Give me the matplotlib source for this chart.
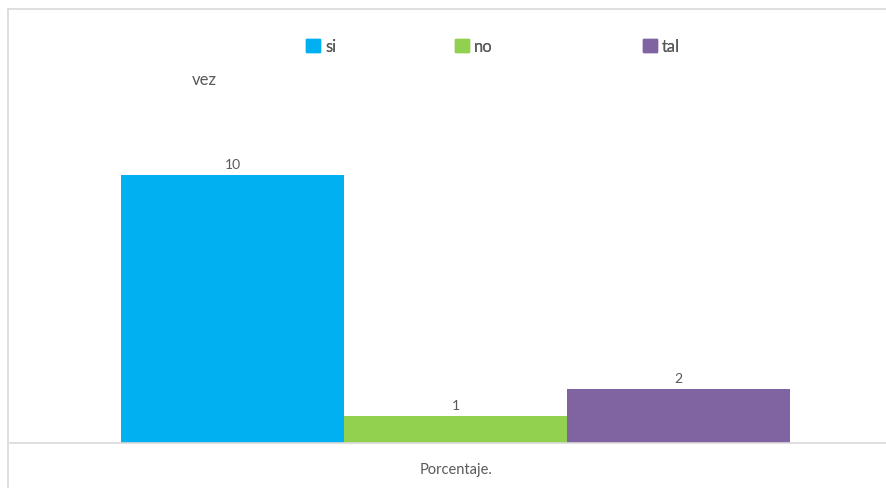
import matplotlib
matplotlib.use("Agg")
import matplotlib.pyplot as plt
from matplotlib.lines import Line2D
from matplotlib.patches import Patch

# Chart data
series = ["si", "no", "tal"]
values = [10, 1, 2]
colors = ["#00B0F0", "#92D050", "#8064A2"]
category = "Porcentaje."

plt.rcParams["font.family"] = ["Lato", "DejaVu Sans"]
text_color = "#595959"
W, H = 886, 489

fig = plt.figure(figsize=(W / 100, H / 100), dpi=100)
fig.patch.set_facecolor("white")

# plot area: left 10px, baseline at 444px
ax = fig.add_axes([10 / W, (H - 444) / H, (W - 10) / W, (444 - 10) / H])
positions = [-1, 0, 1]
bars = ax.bar(positions, values, width=1.0, color=colors, zorder=2)
ax.bar_label(bars, labels=[str(v) for v in values], padding=4,
             fontsize=10, color=text_color)

ax.set_xlim(-2.0, 1.93)
ax.set_ylim(0, 16.2)
ax.set_yticks([])
ax.set_xticks([])
for s in ["top", "right", "left"]:
    ax.spines[s].set_visible(False)
ax.spines["bottom"].set_color("#D9D9D9")
ax.spines["bottom"].set_linewidth(1.2)
ax.set_facecolor("none")

# category label under the axis
fig.text(456 / W, 1 - 470 / H, category, ha="center", va="center",
         fontsize=10.5, color=text_color)

# chart border (left and top)
fig.add_artist(Line2D([8 / W, 8 / W], [0, 1 - 10 / H], color="#D9D9D9", lw=1.2))
fig.add_artist(Line2D([8 / W, 1], [1 - 10 / H, 1 - 10 / H], color="#D9D9D9", lw=1.2))

# legend entries, placed one by one like the original
legend_x = [306, 455, 643]
for name, col, lx in zip(series, colors, legend_x):
    leg = fig.legend(handles=[Patch(color=col)], labels=[name],
                     loc="center left", bbox_to_anchor=(lx / W, 1 - 47 / H),
                     frameon=False, fontsize=12, handlelength=0.85,
                     handleheight=0.85, handletextpad=0.3, borderpad=0,
                     borderaxespad=0, labelcolor=text_color)
    fig.add_artist(leg)

fig.text(192 / W, 1 - 80 / H, "vez", ha="left", va="center",
         fontsize=12, color=text_color)

fig.savefig("out.png", dpi=100)
